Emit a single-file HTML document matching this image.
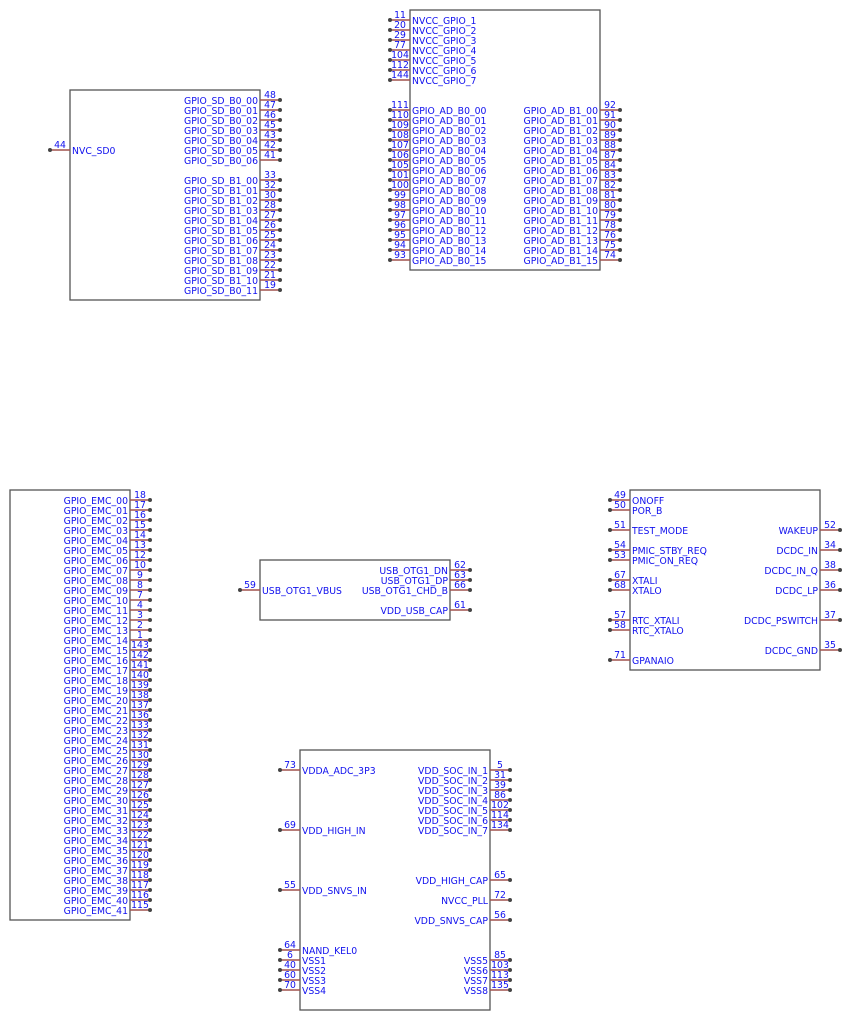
<!DOCTYPE html>
<html><head><meta charset="utf-8"><style>
html,body{margin:0;padding:0;background:#fff}
svg{display:block}
text{font-family:"DejaVu Sans","Liberation Sans",sans-serif;font-size:9.3px;fill:#1010ee}
.e{text-anchor:end}.m{text-anchor:middle}
path{stroke:#a0524d;stroke-width:1.5;fill:none;marker-start:url(#d)}
rect{fill:none;stroke:#555;stroke-width:1.3}
</style></head><body>
<svg width="852" height="1020" viewBox="0 0 852 1020" xmlns="http://www.w3.org/2000/svg">
<defs><marker id="d" markerWidth="6" markerHeight="6" refX="3" refY="3" markerUnits="userSpaceOnUse"><circle cx="3" cy="3" r="2" fill="#444"/></marker></defs>

<rect x="410" y="10" width="190" height="260"/>
<path d="M390 20h20"/><text x="400" y="18" class="m">11</text><text x="412" y="24">NVCC_GPIO_1</text>
<path d="M390 30h20"/><text x="400" y="28" class="m">20</text><text x="412" y="34">NVCC_GPIO_2</text>
<path d="M390 40h20"/><text x="400" y="38" class="m">29</text><text x="412" y="44">NVCC_GPIO_3</text>
<path d="M390 50h20"/><text x="400" y="48" class="m">77</text><text x="412" y="54">NVCC_GPIO_4</text>
<path d="M390 60h20"/><text x="400" y="58" class="m">104</text><text x="412" y="64">NVCC_GPIO_5</text>
<path d="M390 70h20"/><text x="400" y="68" class="m">112</text><text x="412" y="74">NVCC_GPIO_6</text>
<path d="M390 80h20"/><text x="400" y="78" class="m">144</text><text x="412" y="84">NVCC_GPIO_7</text>

<path d="M390 110h20"/><text x="400" y="108" class="m">111</text><text x="412" y="114">GPIO_AD_B0_00</text>
<path d="M390 120h20"/><text x="400" y="118" class="m">110</text><text x="412" y="124">GPIO_AD_B0_01</text>
<path d="M390 130h20"/><text x="400" y="128" class="m">109</text><text x="412" y="134">GPIO_AD_B0_02</text>
<path d="M390 140h20"/><text x="400" y="138" class="m">108</text><text x="412" y="144">GPIO_AD_B0_03</text>
<path d="M390 150h20"/><text x="400" y="148" class="m">107</text><text x="412" y="154">GPIO_AD_B0_04</text>
<path d="M390 160h20"/><text x="400" y="158" class="m">106</text><text x="412" y="164">GPIO_AD_B0_05</text>
<path d="M390 170h20"/><text x="400" y="168" class="m">105</text><text x="412" y="174">GPIO_AD_B0_06</text>
<path d="M390 180h20"/><text x="400" y="178" class="m">101</text><text x="412" y="184">GPIO_AD_B0_07</text>
<path d="M390 190h20"/><text x="400" y="188" class="m">100</text><text x="412" y="194">GPIO_AD_B0_08</text>
<path d="M390 200h20"/><text x="400" y="198" class="m">99</text><text x="412" y="204">GPIO_AD_B0_09</text>
<path d="M390 210h20"/><text x="400" y="208" class="m">98</text><text x="412" y="214">GPIO_AD_B0_10</text>
<path d="M390 220h20"/><text x="400" y="218" class="m">97</text><text x="412" y="224">GPIO_AD_B0_11</text>
<path d="M390 230h20"/><text x="400" y="228" class="m">96</text><text x="412" y="234">GPIO_AD_B0_12</text>
<path d="M390 240h20"/><text x="400" y="238" class="m">95</text><text x="412" y="244">GPIO_AD_B0_13</text>
<path d="M390 250h20"/><text x="400" y="248" class="m">94</text><text x="412" y="254">GPIO_AD_B0_14</text>
<path d="M390 260h20"/><text x="400" y="258" class="m">93</text><text x="412" y="264">GPIO_AD_B0_15</text>

<path d="M620 110h-20"/><text x="610" y="108" class="m">92</text><text x="598" y="114" class="e">GPIO_AD_B1_00</text>
<path d="M620 120h-20"/><text x="610" y="118" class="m">91</text><text x="598" y="124" class="e">GPIO_AD_B1_01</text>
<path d="M620 130h-20"/><text x="610" y="128" class="m">90</text><text x="598" y="134" class="e">GPIO_AD_B1_02</text>
<path d="M620 140h-20"/><text x="610" y="138" class="m">89</text><text x="598" y="144" class="e">GPIO_AD_B1_03</text>
<path d="M620 150h-20"/><text x="610" y="148" class="m">88</text><text x="598" y="154" class="e">GPIO_AD_B1_04</text>
<path d="M620 160h-20"/><text x="610" y="158" class="m">87</text><text x="598" y="164" class="e">GPIO_AD_B1_05</text>
<path d="M620 170h-20"/><text x="610" y="168" class="m">84</text><text x="598" y="174" class="e">GPIO_AD_B1_06</text>
<path d="M620 180h-20"/><text x="610" y="178" class="m">83</text><text x="598" y="184" class="e">GPIO_AD_B1_07</text>
<path d="M620 190h-20"/><text x="610" y="188" class="m">82</text><text x="598" y="194" class="e">GPIO_AD_B1_08</text>
<path d="M620 200h-20"/><text x="610" y="198" class="m">81</text><text x="598" y="204" class="e">GPIO_AD_B1_09</text>
<path d="M620 210h-20"/><text x="610" y="208" class="m">80</text><text x="598" y="214" class="e">GPIO_AD_B1_10</text>
<path d="M620 220h-20"/><text x="610" y="218" class="m">79</text><text x="598" y="224" class="e">GPIO_AD_B1_11</text>
<path d="M620 230h-20"/><text x="610" y="228" class="m">78</text><text x="598" y="234" class="e">GPIO_AD_B1_12</text>
<path d="M620 240h-20"/><text x="610" y="238" class="m">76</text><text x="598" y="244" class="e">GPIO_AD_B1_13</text>
<path d="M620 250h-20"/><text x="610" y="248" class="m">75</text><text x="598" y="254" class="e">GPIO_AD_B1_14</text>
<path d="M620 260h-20"/><text x="610" y="258" class="m">74</text><text x="598" y="264" class="e">GPIO_AD_B1_15</text>

<rect x="70" y="90" width="190" height="210"/>
<path d="M50 150h20"/><text x="60" y="148" class="m">44</text><text x="72" y="154">NVC_SD0</text>
<path d="M280 100h-20"/><text x="270" y="98" class="m">48</text><text x="258" y="104" class="e">GPIO_SD_B0_00</text>
<path d="M280 110h-20"/><text x="270" y="108" class="m">47</text><text x="258" y="114" class="e">GPIO_SD_B0_01</text>
<path d="M280 120h-20"/><text x="270" y="118" class="m">46</text><text x="258" y="124" class="e">GPIO_SD_B0_02</text>
<path d="M280 130h-20"/><text x="270" y="128" class="m">45</text><text x="258" y="134" class="e">GPIO_SD_B0_03</text>
<path d="M280 140h-20"/><text x="270" y="138" class="m">43</text><text x="258" y="144" class="e">GPIO_SD_B0_04</text>
<path d="M280 150h-20"/><text x="270" y="148" class="m">42</text><text x="258" y="154" class="e">GPIO_SD_B0_05</text>
<path d="M280 160h-20"/><text x="270" y="158" class="m">41</text><text x="258" y="164" class="e">GPIO_SD_B0_06</text>
<path d="M280 180h-20"/><text x="270" y="178" class="m">33</text><text x="258" y="184" class="e">GPIO_SD_B1_00</text>
<path d="M280 190h-20"/><text x="270" y="188" class="m">32</text><text x="258" y="194" class="e">GPIO_SD_B1_01</text>
<path d="M280 200h-20"/><text x="270" y="198" class="m">30</text><text x="258" y="204" class="e">GPIO_SD_B1_02</text>
<path d="M280 210h-20"/><text x="270" y="208" class="m">28</text><text x="258" y="214" class="e">GPIO_SD_B1_03</text>
<path d="M280 220h-20"/><text x="270" y="218" class="m">27</text><text x="258" y="224" class="e">GPIO_SD_B1_04</text>
<path d="M280 230h-20"/><text x="270" y="228" class="m">26</text><text x="258" y="234" class="e">GPIO_SD_B1_05</text>
<path d="M280 240h-20"/><text x="270" y="238" class="m">25</text><text x="258" y="244" class="e">GPIO_SD_B1_06</text>
<path d="M280 250h-20"/><text x="270" y="248" class="m">24</text><text x="258" y="254" class="e">GPIO_SD_B1_07</text>
<path d="M280 260h-20"/><text x="270" y="258" class="m">23</text><text x="258" y="264" class="e">GPIO_SD_B1_08</text>
<path d="M280 270h-20"/><text x="270" y="268" class="m">22</text><text x="258" y="274" class="e">GPIO_SD_B1_09</text>
<path d="M280 280h-20"/><text x="270" y="278" class="m">21</text><text x="258" y="284" class="e">GPIO_SD_B1_10</text>
<path d="M280 290h-20"/><text x="270" y="288" class="m">19</text><text x="258" y="294" class="e">GPIO_SD_B0_11</text>

<rect x="10" y="490" width="120" height="430"/>
<path d="M150 500h-20"/><text x="140" y="498" class="m">18</text><text x="128" y="504" class="e">GPIO_EMC_00</text>
<path d="M150 510h-20"/><text x="140" y="508" class="m">17</text><text x="128" y="514" class="e">GPIO_EMC_01</text>
<path d="M150 520h-20"/><text x="140" y="518" class="m">16</text><text x="128" y="524" class="e">GPIO_EMC_02</text>
<path d="M150 530h-20"/><text x="140" y="528" class="m">15</text><text x="128" y="534" class="e">GPIO_EMC_03</text>
<path d="M150 540h-20"/><text x="140" y="538" class="m">14</text><text x="128" y="544" class="e">GPIO_EMC_04</text>
<path d="M150 550h-20"/><text x="140" y="548" class="m">13</text><text x="128" y="554" class="e">GPIO_EMC_05</text>
<path d="M150 560h-20"/><text x="140" y="558" class="m">12</text><text x="128" y="564" class="e">GPIO_EMC_06</text>
<path d="M150 570h-20"/><text x="140" y="568" class="m">10</text><text x="128" y="574" class="e">GPIO_EMC_07</text>
<path d="M150 580h-20"/><text x="140" y="578" class="m">9</text><text x="128" y="584" class="e">GPIO_EMC_08</text>
<path d="M150 590h-20"/><text x="140" y="588" class="m">8</text><text x="128" y="594" class="e">GPIO_EMC_09</text>
<path d="M150 600h-20"/><text x="140" y="598" class="m">7</text><text x="128" y="604" class="e">GPIO_EMC_10</text>
<path d="M150 610h-20"/><text x="140" y="608" class="m">4</text><text x="128" y="614" class="e">GPIO_EMC_11</text>
<path d="M150 620h-20"/><text x="140" y="618" class="m">3</text><text x="128" y="624" class="e">GPIO_EMC_12</text>
<path d="M150 630h-20"/><text x="140" y="628" class="m">2</text><text x="128" y="634" class="e">GPIO_EMC_13</text>
<path d="M150 640h-20"/><text x="140" y="638" class="m">1</text><text x="128" y="644" class="e">GPIO_EMC_14</text>
<path d="M150 650h-20"/><text x="140" y="648" class="m">143</text><text x="128" y="654" class="e">GPIO_EMC_15</text>
<path d="M150 660h-20"/><text x="140" y="658" class="m">142</text><text x="128" y="664" class="e">GPIO_EMC_16</text>
<path d="M150 670h-20"/><text x="140" y="668" class="m">141</text><text x="128" y="674" class="e">GPIO_EMC_17</text>
<path d="M150 680h-20"/><text x="140" y="678" class="m">140</text><text x="128" y="684" class="e">GPIO_EMC_18</text>
<path d="M150 690h-20"/><text x="140" y="688" class="m">139</text><text x="128" y="694" class="e">GPIO_EMC_19</text>
<path d="M150 700h-20"/><text x="140" y="698" class="m">138</text><text x="128" y="704" class="e">GPIO_EMC_20</text>
<path d="M150 710h-20"/><text x="140" y="708" class="m">137</text><text x="128" y="714" class="e">GPIO_EMC_21</text>
<path d="M150 720h-20"/><text x="140" y="718" class="m">136</text><text x="128" y="724" class="e">GPIO_EMC_22</text>
<path d="M150 730h-20"/><text x="140" y="728" class="m">133</text><text x="128" y="734" class="e">GPIO_EMC_23</text>
<path d="M150 740h-20"/><text x="140" y="738" class="m">132</text><text x="128" y="744" class="e">GPIO_EMC_24</text>
<path d="M150 750h-20"/><text x="140" y="748" class="m">131</text><text x="128" y="754" class="e">GPIO_EMC_25</text>
<path d="M150 760h-20"/><text x="140" y="758" class="m">130</text><text x="128" y="764" class="e">GPIO_EMC_26</text>
<path d="M150 770h-20"/><text x="140" y="768" class="m">129</text><text x="128" y="774" class="e">GPIO_EMC_27</text>
<path d="M150 780h-20"/><text x="140" y="778" class="m">128</text><text x="128" y="784" class="e">GPIO_EMC_28</text>
<path d="M150 790h-20"/><text x="140" y="788" class="m">127</text><text x="128" y="794" class="e">GPIO_EMC_29</text>
<path d="M150 800h-20"/><text x="140" y="798" class="m">126</text><text x="128" y="804" class="e">GPIO_EMC_30</text>
<path d="M150 810h-20"/><text x="140" y="808" class="m">125</text><text x="128" y="814" class="e">GPIO_EMC_31</text>
<path d="M150 820h-20"/><text x="140" y="818" class="m">124</text><text x="128" y="824" class="e">GPIO_EMC_32</text>
<path d="M150 830h-20"/><text x="140" y="828" class="m">123</text><text x="128" y="834" class="e">GPIO_EMC_33</text>
<path d="M150 840h-20"/><text x="140" y="838" class="m">122</text><text x="128" y="844" class="e">GPIO_EMC_34</text>
<path d="M150 850h-20"/><text x="140" y="848" class="m">121</text><text x="128" y="854" class="e">GPIO_EMC_35</text>
<path d="M150 860h-20"/><text x="140" y="858" class="m">120</text><text x="128" y="864" class="e">GPIO_EMC_36</text>
<path d="M150 870h-20"/><text x="140" y="868" class="m">119</text><text x="128" y="874" class="e">GPIO_EMC_37</text>
<path d="M150 880h-20"/><text x="140" y="878" class="m">118</text><text x="128" y="884" class="e">GPIO_EMC_38</text>
<path d="M150 890h-20"/><text x="140" y="888" class="m">117</text><text x="128" y="894" class="e">GPIO_EMC_39</text>
<path d="M150 900h-20"/><text x="140" y="898" class="m">116</text><text x="128" y="904" class="e">GPIO_EMC_40</text>
<path d="M150 910h-20"/><text x="140" y="908" class="m">115</text><text x="128" y="914" class="e">GPIO_EMC_41</text>

<rect x="260" y="560" width="190" height="60"/>
<path d="M240 590h20"/><text x="250" y="588" class="m">59</text><text x="262" y="594">USB_OTG1_VBUS</text>
<path d="M470 570h-20"/><text x="460" y="568" class="m">62</text><text x="448" y="574" class="e">USB_OTG1_DN</text>
<path d="M470 580h-20"/><text x="460" y="578" class="m">63</text><text x="448" y="584" class="e">USB_OTG1_DP</text>
<path d="M470 590h-20"/><text x="460" y="588" class="m">66</text><text x="448" y="594" class="e">USB_OTG1_CHD_B</text>
<path d="M470 610h-20"/><text x="460" y="608" class="m">61</text><text x="448" y="614" class="e">VDD_USB_CAP</text>

<rect x="630" y="490" width="190" height="180"/>
<path d="M610 500h20"/><text x="620" y="498" class="m">49</text><text x="632" y="504">ONOFF</text>
<path d="M610 510h20"/><text x="620" y="508" class="m">50</text><text x="632" y="514">POR_B</text>
<path d="M610 530h20"/><text x="620" y="528" class="m">51</text><text x="632" y="534">TEST_MODE</text>
<path d="M610 550h20"/><text x="620" y="548" class="m">54</text><text x="632" y="554">PMIC_STBY_REQ</text>
<path d="M610 560h20"/><text x="620" y="558" class="m">53</text><text x="632" y="564">PMIC_ON_REQ</text>
<path d="M610 580h20"/><text x="620" y="578" class="m">67</text><text x="632" y="584">XTALI</text>
<path d="M610 590h20"/><text x="620" y="588" class="m">68</text><text x="632" y="594">XTALO</text>
<path d="M610 620h20"/><text x="620" y="618" class="m">57</text><text x="632" y="624">RTC_XTALI</text>
<path d="M610 630h20"/><text x="620" y="628" class="m">58</text><text x="632" y="634">RTC_XTALO</text>
<path d="M610 660h20"/><text x="620" y="658" class="m">71</text><text x="632" y="664">GPANAIO</text>
<path d="M840 530h-20"/><text x="830" y="528" class="m">52</text><text x="818" y="534" class="e">WAKEUP</text>
<path d="M840 550h-20"/><text x="830" y="548" class="m">34</text><text x="818" y="554" class="e">DCDC_IN</text>
<path d="M840 570h-20"/><text x="830" y="568" class="m">38</text><text x="818" y="574" class="e">DCDC_IN_Q</text>
<path d="M840 590h-20"/><text x="830" y="588" class="m">36</text><text x="818" y="594" class="e">DCDC_LP</text>
<path d="M840 620h-20"/><text x="830" y="618" class="m">37</text><text x="818" y="624" class="e">DCDC_PSWITCH</text>
<path d="M840 650h-20"/><text x="830" y="648" class="m">35</text><text x="818" y="654" class="e">DCDC_GND</text>

<rect x="300" y="750" width="190" height="260"/>
<path d="M280 770h20"/><text x="290" y="768" class="m">73</text><text x="302" y="774">VDDA_ADC_3P3</text>
<path d="M280 830h20"/><text x="290" y="828" class="m">69</text><text x="302" y="834">VDD_HIGH_IN</text>
<path d="M280 890h20"/><text x="290" y="888" class="m">55</text><text x="302" y="894">VDD_SNVS_IN</text>
<path d="M280 950h20"/><text x="290" y="948" class="m">64</text><text x="302" y="954">NAND_KEL0</text>
<path d="M280 960h20"/><text x="290" y="958" class="m">6</text><text x="302" y="964">VSS1</text>
<path d="M280 970h20"/><text x="290" y="968" class="m">40</text><text x="302" y="974">VSS2</text>
<path d="M280 980h20"/><text x="290" y="978" class="m">60</text><text x="302" y="984">VSS3</text>
<path d="M280 990h20"/><text x="290" y="988" class="m">70</text><text x="302" y="994">VSS4</text>
<path d="M510 770h-20"/><text x="500" y="768" class="m">5</text><text x="488" y="774" class="e">VDD_SOC_IN_1</text>
<path d="M510 780h-20"/><text x="500" y="778" class="m">31</text><text x="488" y="784" class="e">VDD_SOC_IN_2</text>
<path d="M510 790h-20"/><text x="500" y="788" class="m">39</text><text x="488" y="794" class="e">VDD_SOC_IN_3</text>
<path d="M510 800h-20"/><text x="500" y="798" class="m">86</text><text x="488" y="804" class="e">VDD_SOC_IN_4</text>
<path d="M510 810h-20"/><text x="500" y="808" class="m">102</text><text x="488" y="814" class="e">VDD_SOC_IN_5</text>
<path d="M510 820h-20"/><text x="500" y="818" class="m">114</text><text x="488" y="824" class="e">VDD_SOC_IN_6</text>
<path d="M510 830h-20"/><text x="500" y="828" class="m">134</text><text x="488" y="834" class="e">VDD_SOC_IN_7</text>
<path d="M510 880h-20"/><text x="500" y="878" class="m">65</text><text x="488" y="884" class="e">VDD_HIGH_CAP</text>
<path d="M510 900h-20"/><text x="500" y="898" class="m">72</text><text x="488" y="904" class="e">NVCC_PLL</text>
<path d="M510 920h-20"/><text x="500" y="918" class="m">56</text><text x="488" y="924" class="e">VDD_SNVS_CAP</text>
<path d="M510 960h-20"/><text x="500" y="958" class="m">85</text><text x="488" y="964" class="e">VSS5</text>
<path d="M510 970h-20"/><text x="500" y="968" class="m">103</text><text x="488" y="974" class="e">VSS6</text>
<path d="M510 980h-20"/><text x="500" y="978" class="m">113</text><text x="488" y="984" class="e">VSS7</text>
<path d="M510 990h-20"/><text x="500" y="988" class="m">135</text><text x="488" y="994" class="e">VSS8</text>
</svg>
</body></html>
